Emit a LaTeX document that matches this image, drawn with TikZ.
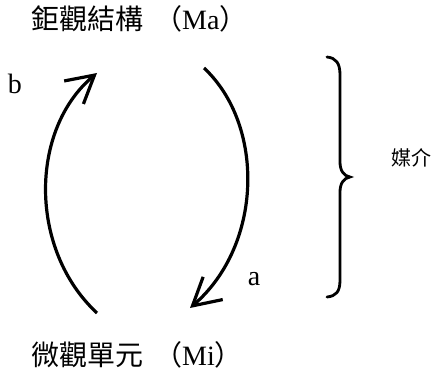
\documentclass[tikz,border=0pt]{standalone}
\usepackage{fontspec}
\setmainfont{Liberation Serif}
\newfontfamily\cjk{Noto Sans CJK TC}
\usetikzlibrary{arrows.meta}
\begin{document}
\begin{tikzpicture}[x=1pt,y=-1pt,
  lbl/.style={inner sep=0pt,font=\fontsize{28}{32}\selectfont},
  small/.style={inner sep=0pt,font=\fontsize{20}{24}\selectfont},
  cyc/.style={line width=3.2pt,-{Straight Barb[length=27pt,width=30pt]}},
  bracestyle/.style={line width=2.8pt,line cap=round}]
\useasboundingbox (0,0) rectangle (446,371);
% texts
\node[lbl,anchor=base west] (ma) at (31,30) {{\cjk 鉅觀結構}\hspace{4pt} {\cjk （}Ma{\cjk ）}};
\node[lbl,anchor=base west] (mi) at (31,365) {{\cjk 微觀單元}\hspace{4pt} {\cjk （}Mi{\cjk ）}};
\node[lbl] (b) at (15,84) {b};
\node[lbl] (a) at (254,279) {a};
\node[small,anchor=west] (mj) at (391,158) {\cjk 媒介};
% arrow endpoints
\coordinate (bs) at (97,313);
\coordinate (bt) at (97,73);
\coordinate (as) at (204,68);
\coordinate (at) at (190,308);
% arrows
\draw[cyc] (bs) .. controls (29,250) and (29,130) .. (bt);
\draw[cyc] (as) .. controls (265,125) and (263,245) .. (at);
% brace
\coordinate (btop) at (327,57);
\coordinate (bmid) at (350,177);
\coordinate (bbot) at (327,297);
\draw[bracestyle] (btop) .. controls (336,58) and (340,63) .. (340,75) -- (340,162)
  .. controls (340,171) and (344,176) .. (bmid)
  .. controls (344,178) and (340,183) .. (340,192) -- (340,280)
  .. controls (340,292) and (336,296) .. (bbot);
\end{tikzpicture}
\end{document}
